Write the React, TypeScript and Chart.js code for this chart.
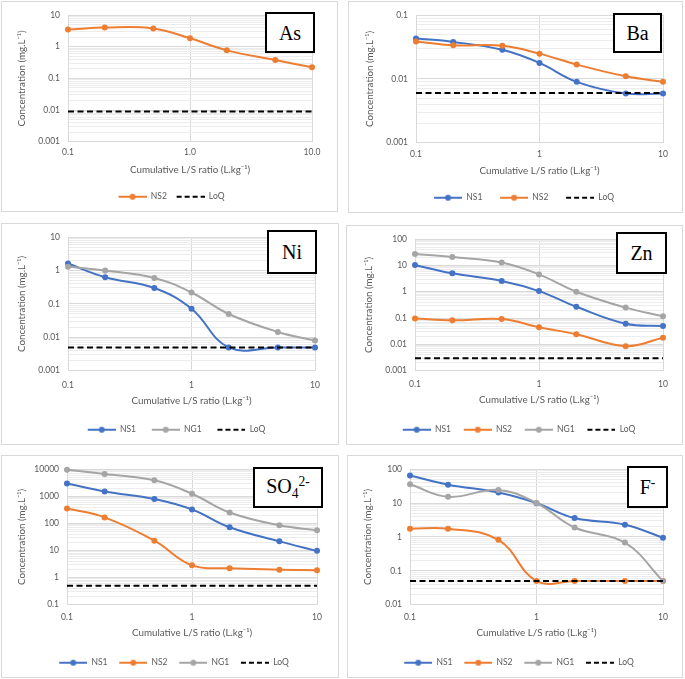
import React, { useEffect, useRef } from "react";
import { Chart, registerables } from "chart.js";
Chart.register(...registerables);

// ---------- data ----------
const LS = [0.1, 0.2, 0.5, 1, 2, 5, 10];

const asNS2 = [3.5, 4.05, 3.8, 1.85, 0.77, 0.38, 0.225];
const asLoQ = 0.009;

const baNS1 = [0.043, 0.038, 0.0286, 0.0178, 0.009, 0.0059, 0.0059];
const baNS2 = [0.0387, 0.0337, 0.033, 0.0249, 0.0168, 0.011, 0.009];
const baLoQ = 0.006;

const niNS1 = [1.62, 0.63, 0.3, 0.072, 0.005, 0.005, 0.005];
const niNG1 = [1.3, 1.0, 0.6, 0.22, 0.05, 0.0145, 0.008];
const niLoQ = 0.005;

const znNS1 = [10.4, 5.0, 2.56, 1.06, 0.27, 0.061, 0.05];
const znNS2 = [0.097, 0.082, 0.092, 0.045, 0.0244, 0.0086, 0.018];
const znNG1 = [27.4, 20.8, 13, 4.57, 1.0, 0.25, 0.117];
const znLoQ = 0.003;

const so4NS1 = [2930, 1500, 790, 324, 72, 21.7, 9.7];
const so4NS2 = [352, 166, 23, 2.84, 2.2, 1.97, 1.87];
const so4NG1 = [9450, 6580, 3870, 1235, 252, 85, 56];
const so4LoQ = 0.5;

const fNS1 = [65, 34.8, 20.3, 9.9, 3.6, 2.3, 0.95];
const fNS2 = [1.75, 1.75, 0.82, 0.05, 0.05, 0.05, 0.05];
const fNG1 = [35.6, 15.2, 24.3, 10, 1.9, 0.68, 0.05];
const fLoQ = 0.05;

const xTicks = [0.1, 1, 10];
const xLabelsDec = ["0.1", "1.0", "10.0"];
const xLabelsInt = ["0.1", "1", "10"];

const yLabelsAs = ["0.001", "0.01", "0.1", "1", "10"];
const yLabelsBa = ["0.001", "0.01", "0.1"];
const yLabelsNi = ["0.001", "0.01", "0.1", "1", "10"];
const yLabelsZn = ["0.001", "0.01", "0.1", "1", "10", "100"];
const yLabelsSO4 = ["0.1", "1", "10", "100", "1000", "10000"];
const yLabelsF = ["0.01", "0.1", "1", "10", "100"];

const X_TITLE = "Cumulative L/S ratio (L.kg\u207B\u00B9)";
const Y_TITLE = "Concentration (mg.L\u207B\u00B9)";

// ---------- styles ----------
const BLUE = "#4472C4";
const ORANGE = "#ED7D31";
const GRAY = "#A5A5A5";
const TXT = "#595959";
const FONT = "Lato, 'Liberation Sans', sans-serif";
const FS = 8.5; // ticks & legend
const TFS = 9.8; // axis titles

type S = { label: string; values?: number[]; loq?: number; color: string };

const PANELS: {
  tag: React.ReactNode;
  xLabels: string[];
  yLabels: string[];
  series: S[];
}[] = [
  {
    tag: "As",
    xLabels: xLabelsDec,
    yLabels: yLabelsAs,
    series: [
      { label: "NS2", values: asNS2, color: ORANGE },
      { label: "LoQ", loq: asLoQ, color: "#000" },
    ],
  },
  {
    tag: "Ba",
    xLabels: xLabelsInt,
    yLabels: yLabelsBa,
    series: [
      { label: "NS1", values: baNS1, color: BLUE },
      { label: "NS2", values: baNS2, color: ORANGE },
      { label: "LoQ", loq: baLoQ, color: "#000" },
    ],
  },
  {
    tag: "Ni",
    xLabels: xLabelsInt,
    yLabels: yLabelsNi,
    series: [
      { label: "NS1", values: niNS1, color: BLUE },
      { label: "NG1", values: niNG1, color: GRAY },
      { label: "LoQ", loq: niLoQ, color: "#000" },
    ],
  },
  {
    tag: "Zn",
    xLabels: xLabelsInt,
    yLabels: yLabelsZn,
    series: [
      { label: "NS1", values: znNS1, color: BLUE },
      { label: "NS2", values: znNS2, color: ORANGE },
      { label: "NG1", values: znNG1, color: GRAY },
      { label: "LoQ", loq: znLoQ, color: "#000" },
    ],
  },
  {
    tag: (
      <span>
        SO<sub style={{ fontSize: "0.68em", verticalAlign: "-0.3em" }}>4</sub>
        <sup style={{ fontSize: "0.68em", verticalAlign: "0.55em" }}>2-</sup>
      </span>
    ),
    xLabels: xLabelsInt,
    yLabels: yLabelsSO4,
    series: [
      { label: "NS1", values: so4NS1, color: BLUE },
      { label: "NS2", values: so4NS2, color: ORANGE },
      { label: "NG1", values: so4NG1, color: GRAY },
      { label: "LoQ", loq: so4LoQ, color: "#000" },
    ],
  },
  {
    tag: (
      <span>
        F<sup style={{ fontSize: "0.68em", verticalAlign: "0.55em" }}>-</sup>
      </span>
    ),
    xLabels: xLabelsInt,
    yLabels: yLabelsF,
    series: [
      { label: "NS1", values: fNS1, color: BLUE },
      { label: "NS2", values: fNS2, color: ORANGE },
      { label: "NG1", values: fNG1, color: GRAY },
      { label: "LoQ", loq: fLoQ, color: "#000" },
    ],
  },
];

// layout (page px): box = [left, top, width, height]; plot = [left, right, top, bottom]
const LAYOUT = [
  { box: [1, 1, 337, 211], plot: [68, 312, 12, 144], xLab: 155, xTit: 172, leg: 199, yTit: 22, gap: 10, legShift: 1, tagBox: [265, 12, 50, 41] },
  { box: [348, 1, 335, 212], plot: [416, 663, 12, 144], xLab: 156, xTit: 172, leg: 199, yTit: 370, gap: 18, legShift: 4, tagBox: [613, 13, 49, 40] },
  { box: [1, 223, 338, 222], plot: [68, 315, 232, 372], xLab: 387, xTit: 402, leg: 431, yTit: 22, gap: 16, legShift: 3, tagBox: [267, 230, 50, 44] },
  { box: [346, 225, 337, 220], plot: [415, 663, 232, 371], xLab: 385, xTit: 400, leg: 430, yTit: 369, gap: 13, legShift: 3, tagBox: [616, 232, 51, 42] },
  { box: [1, 455, 338, 223], plot: [67, 317, 467, 605], xLab: 618, xTit: 633, leg: 663, yTit: 22, gap: 12, legShift: 3, tagBox: [253, 467, 70, 41] },
  { box: [347, 455, 336, 223], plot: [410, 663, 468, 605], xLab: 618, xTit: 633, leg: 663, yTit: 368, gap: 12, legShift: 3, tagBox: [627, 466, 41, 42] },
];

function makeIcon(color: string, dashed: boolean, blank: number, len: number) {
  const c = document.createElement("canvas");
  c.width = Math.round(blank + len);
  c.height = 8;
  const g = c.getContext("2d")!;
  g.strokeStyle = color;
  g.lineWidth = 2;
  if (dashed) g.setLineDash([5, 3]);
  g.beginPath();
  g.moveTo(c.width - len, 4);
  g.lineTo(c.width, 4);
  g.stroke();
  if (!dashed) {
    g.fillStyle = color;
    g.beginPath();
    g.arc(c.width - len / 2, 4, 3, 0, Math.PI * 2);
    g.fill();
  }
  return c;
}

const isMajor = (v: number) => {
  const l = Math.log10(v);
  return Math.abs(l - Math.round(l)) < 1e-6;
};

function Panel({ idx }: { idx: number }) {
  const ref = useRef<HTMLCanvasElement>(null);
  const spec = PANELS[idx];
  const L = LAYOUT[idx];
  const cw = L.box[2] - 2;
  const ch = L.box[3] - 2;
  const ox = L.box[0] + 1;
  const oy = L.box[1] + 1;

  useEffect(() => {
    const tlh = TFS * 1.2;
    const pl = L.plot[0] - ox;
    const pr = L.plot[1] - ox;
    const pt = L.plot[2] - oy;
    const pb = L.plot[3] - oy;
    const legY = L.leg - oy;
    const p = Math.min(L.gap, ch - FS / 2 - legY);
    const layoutBottom = ch - FS / 2 - p - legY;
    const legendH = FS + 2 * p;
    const xH = ch - layoutBottom - legendH - pb;
    const xTitPad = pb + xH - tlh / 2 - (L.xTit - oy);
    const xTickPad = L.xLab - oy - pb - FS * 0.6;
    const yTitPad = L.yTit - ox - tlh / 2;
    const blank = L.gap - p;
    const lineLen = 28;

    const yDec = spec.yLabels.map(Number);
    const yMin = yDec[0];
    const yMax = yDec[yDec.length - 1];
    const yTickVals: number[] = [];
    for (let i = 0; i < yDec.length; i++) {
      for (let k = 1; k <= 9; k++) {
        const v = yDec[i] * k;
        if (v <= yMax * 1.0000001) yTickVals.push(v);
      }
    }

    const n = spec.series.length;
    const datasets = spec.series.map((s, i) => {
      if (s.loq !== undefined) {
        return {
          label: s.label,
          data: LS.map((x) => ({ x, y: s.loq as number })),
          borderColor: s.color,
          backgroundColor: s.color,
          borderWidth: 2,
          borderDash: [6, 3.5],
          pointRadius: 0,
          tension: 0,
          clip: false as const,
          order: n - i,
        };
      }
      return {
        label: s.label,
        data: LS.map((x, j) => ({ x, y: (s.values as number[])[j] })),
        borderColor: s.color,
        backgroundColor: s.color,
        borderWidth: 2,
        pointRadius: 3,
        pointBorderWidth: 0,
        pointBackgroundColor: s.color,
        tension: 0.4,
        clip: false as const,
        order: n - i,
      };
    });

    const icons = spec.series.map((s) => makeIcon(s.color, s.loq !== undefined, blank, lineLen));

    const legendPlacer = {
      id: "legendPlacer",
      afterLayout: (c: any) => {
        if (c.legend) {
          c.legend.left = L.legShift;
          c.legend.right = cw + L.legShift;
        }
      },
    };

    Chart.defaults.font.family = FONT;
    const chart = new Chart(ref.current!, {
      type: "line",
      data: { datasets: datasets as any },
      plugins: [legendPlacer],
      options: {
        responsive: false,
        animation: false,
        events: [],
        layout: { padding: { left: 0, right: cw - pr, top: pt, bottom: layoutBottom } },
        scales: {
          x: {
            type: "logarithmic",
            position: "bottom",
            min: 0.1,
            max: 10,
            afterBuildTicks: (s: any) => {
              s.ticks = xTicks.map((v) => ({ value: v }));
            },
            afterFit: (s: any) => {
              s.height = xH;
            },
            ticks: {
              autoSkip: false,
              maxRotation: 0,
              padding: xTickPad,
              color: TXT,
              font: { size: FS, family: FONT },
              callback: (_v: any, i: number) => spec.xLabels[i],
            },
            grid: { color: "#d9d9d9", drawTicks: false, lineWidth: 1 },
            border: { color: "#d9d9d9" },
            title: {
              display: true,
              text: X_TITLE,
              color: TXT,
              font: { size: TFS, family: FONT },
              padding: { top: 0, bottom: xTitPad },
            },
          },
          y: {
            type: "logarithmic",
            position: "left",
            min: yMin,
            max: yMax,
            afterBuildTicks: (s: any) => {
              s.ticks = yTickVals.map((v) => ({ value: v }));
            },
            afterFit: (s: any) => {
              s.width = pl;
            },
            ticks: {
              autoSkip: false,
              padding: 8,
              color: TXT,
              font: { size: FS, family: FONT },
              callback: (v: any) => {
                if (!isMajor(v)) return "";
                const k = yDec.findIndex((d) => Math.abs(d - v) / d < 1e-6);
                return k >= 0 ? spec.yLabels[k] : "";
              },
            },
            grid: {
              drawTicks: false,
              lineWidth: 1,
              color: (c: any) => (c.tick && isMajor(c.tick.value) ? "#d9d9d9" : "#ececec"),
            },
            border: { color: "#d9d9d9" },
            title: {
              display: true,
              text: Y_TITLE,
              color: TXT,
              font: { size: TFS, family: FONT },
              padding: { top: yTitPad, bottom: 0 },
            },
          },
        },
        plugins: {
          tooltip: { enabled: false },
          legend: {
            display: true,
            position: "bottom",
            align: "center",
            labels: {
              usePointStyle: true,
              pointStyleWidth: icons[0].width,
              padding: p,
              color: TXT,
              font: { size: FS, family: FONT },
              generateLabels: (c: any) =>
                c.data.datasets.map((ds: any, i: number) => ({
                  text: ds.label,
                  pointStyle: icons[i],
                  fillStyle: ds.borderColor,
                  strokeStyle: ds.borderColor,
                  lineWidth: 0,
                  hidden: false,
                  datasetIndex: i,
                  fontColor: TXT,
                })),
            },
          },
        },
      },
    });
    return () => chart.destroy();
  }, []);

  return (
    <>
      <div
        style={{
          position: "absolute",
          left: L.box[0],
          top: L.box[1],
          width: L.box[2],
          height: L.box[3],
          border: "1px solid #d9d9d9",
          boxSizing: "border-box",
          background: "#fff",
        }}
      >
        <canvas ref={ref} width={cw} height={ch} style={{ display: "block", width: cw, height: ch }} />
      </div>
      <div
        style={{
          position: "absolute",
          left: L.tagBox[0],
          top: L.tagBox[1],
          width: L.tagBox[2],
          height: L.tagBox[3],
          border: "2px solid #000",
          boxSizing: "border-box",
          background: "#fff",
          display: "flex",
          alignItems: "center",
          justifyContent: "center",
          fontFamily: "'Liberation Serif', 'Times New Roman', serif",
          fontSize: 20,
          color: "#000",
          lineHeight: 1,
        }}
      >
        {spec.tag}
      </div>
    </>
  );
}

export default function App() {
  return (
    <div style={{ position: "absolute", left: 0, top: 0, width: 685, height: 679, background: "#fff" }}>
      {PANELS.map((_, i) => (
        <Panel key={i} idx={i} />
      ))}
    </div>
  );
}
